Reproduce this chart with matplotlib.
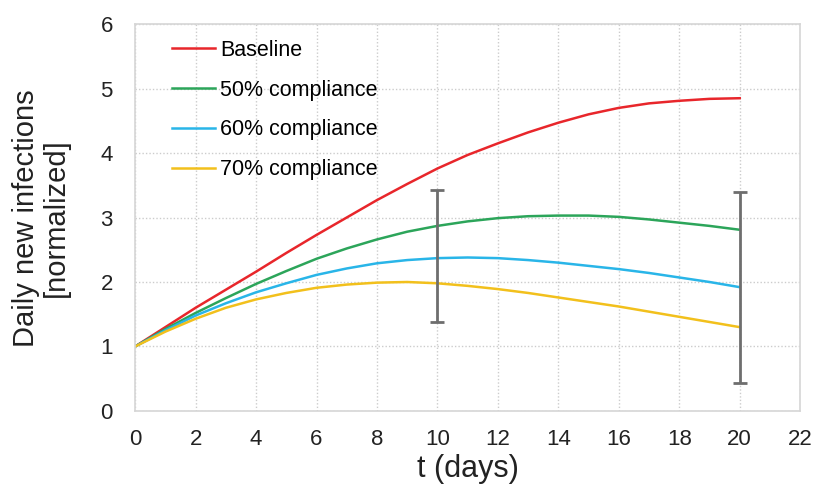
import matplotlib
matplotlib.use('Agg')
import matplotlib.pyplot as plt

plt.rcParams['font.family'] = ['Liberation Sans', 'DejaVu Sans']

# days and normalized daily new infections per scenario
days = list(range(0, 21))
baseline = [1.0, 1.3, 1.6, 1.88, 2.16, 2.45, 2.73, 3.0, 3.27, 3.52, 3.76,
            3.97, 4.15, 4.32, 4.47, 4.6, 4.7, 4.77, 4.81, 4.84, 4.85]
comp50 = [1.0, 1.27, 1.52, 1.75, 1.97, 2.17, 2.36, 2.52, 2.66, 2.78, 2.87,
          2.94, 2.99, 3.02, 3.03, 3.03, 3.01, 2.97, 2.92, 2.87, 2.81]
comp60 = [1.0, 1.25, 1.48, 1.67, 1.84, 1.98, 2.11, 2.21, 2.29, 2.34, 2.37,
          2.38, 2.37, 2.34, 2.30, 2.25, 2.20, 2.14, 2.07, 2.0, 1.92]
comp70 = [1.0, 1.23, 1.43, 1.6, 1.73, 1.83, 1.91, 1.96, 1.99, 2.0, 1.98,
          1.94, 1.89, 1.83, 1.76, 1.69, 1.62, 1.54, 1.46, 1.38, 1.3]

labels = ['Baseline', '50% compliance', '60% compliance', '70% compliance']
colors = ['#e8262b', '#2ca55a', '#29b5e8', '#f2c01c']

# error bars
err_x = [10, 20]
err_y = [2.40, 1.915]
err_half = [1.02, 1.485]

fig = plt.figure(figsize=(8.19, 4.91), dpi=100)
ax = fig.add_axes([0.165, 0.163, 0.812, 0.788])

for serie, lab, col in zip([baseline, comp50, comp60, comp70], labels, colors):
    ax.plot(days, serie, color=col, lw=1.8, label=lab)

ax.errorbar(err_x, err_y, yerr=err_half, fmt='none', ecolor='#6e6e6e',
            elinewidth=2, capsize=5, capthick=2)

ax.set_xlim(0, 22)
ax.set_ylim(0, 6)
ax.set_xticks(range(0, 23, 2))
ax.set_yticks(range(0, 7))
ax.grid(True, color='#cccccc', linestyle=(0, (1, 1.5)), lw=1)
ax.set_axisbelow(True)
for sp in ax.spines.values():
    sp.set_color('#d6d6d6')
    sp.set_linewidth(1.2)
ax.tick_params(length=0, colors='#222222', labelsize=16)
ax.tick_params(axis='x', pad=13)
ax.tick_params(axis='y', pad=16)

ax.set_xlabel('t (days)', fontsize=22, color='#222222')
ax.xaxis.set_label_coords(0.5, -0.11)
fig.text(0.05, 0.556, 'Daily new infections\n[normalized]', rotation=90,
         ha='center', va='center', multialignment='center',
         fontsize=21, color='#222222', linespacing=1.05)

leg = ax.legend(loc='upper left', frameon=False, fontsize=15.5,
                handlelength=2.0, labelspacing=0.88,
                bbox_to_anchor=(0.026, 1.01), handletextpad=0.25)

fig.savefig('out.png', dpi=100)
